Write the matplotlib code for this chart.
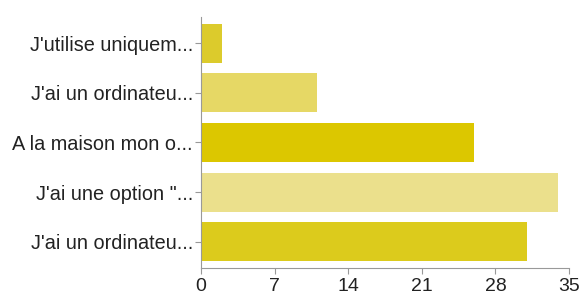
import matplotlib
matplotlib.use("Agg")
import matplotlib.pyplot as plt

categories = ["J'utilise uniquem...", "J'ai un ordinateu...", "A la maison mon o...",
              "J'ai une option \"...", "J'ai un ordinateu..."]
values = [2, 11, 26, 34, 31]
colors = ["#dccb2c", "#e6d865", "#dcc700", "#ebe08c", "#dccb1c"]
xticks = [0, 7, 14, 21, 28, 35]

plt.rcParams['font.family'] = ['Liberation Sans', 'DejaVu Sans']

fig = plt.figure(figsize=(5.83, 2.95), dpi=100)
ax = fig.add_axes([0.345, 0.0915, 0.631, 0.851])
ypos = list(range(len(categories)))
ax.barh(ypos, values, height=0.79, color=colors)
ax.set_ylim(len(categories) - 0.47, -0.53)
ax.set_xlim(0, 35)
ax.set_yticks(ypos)
ax.set_yticklabels(categories, fontsize=14.3, color="#222222")
ax.set_xticks(xticks)
ax.set_xticklabels([str(t) for t in xticks], fontsize=14, color="#222222")
for s in ["top", "right"]:
    ax.spines[s].set_visible(False)
for s in ["left", "bottom"]:
    ax.spines[s].set_color("#999999")
    ax.spines[s].set_linewidth(0.8)
ax.tick_params(axis="both", length=4, color="#999999", width=0.8)
ax.tick_params(axis="x", pad=3)
ax.tick_params(axis="y", pad=2)
fig.savefig("out.png", dpi=100)
